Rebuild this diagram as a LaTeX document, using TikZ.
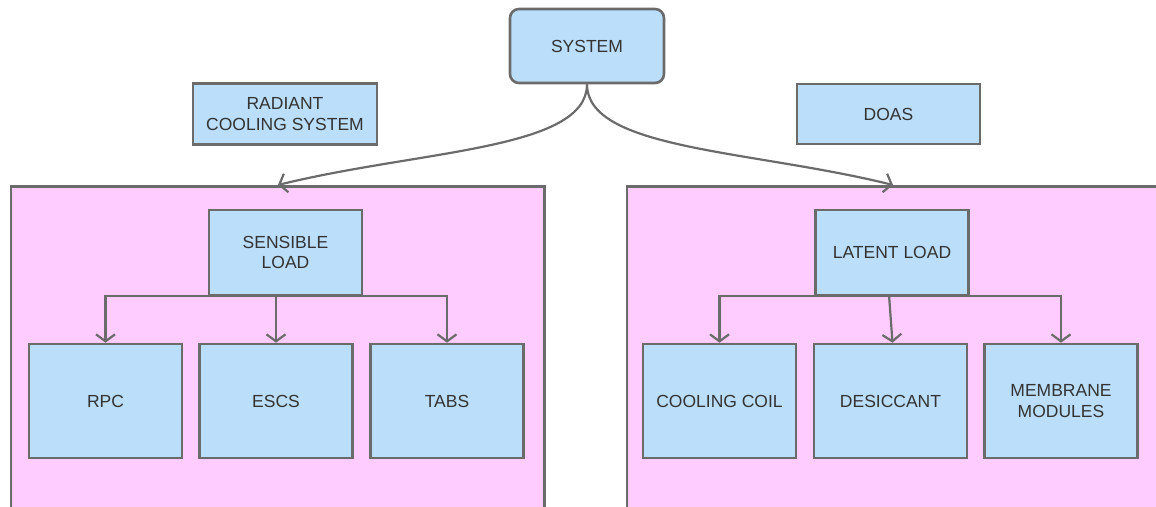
\documentclass[tikz,border=0pt]{standalone}
\usepackage{fontspec}
\setmainfont{Liberation Sans}
\usetikzlibrary{arrows.meta}
\definecolor{edgegray}{HTML}{6B6B6B}
\definecolor{boxblue}{HTML}{BBDEFB}
\definecolor{panelpink}{HTML}{FFCCFF}
\definecolor{labelgray}{HTML}{333333}
\tikzset{
  box/.style={draw=edgegray, line width=2.6pt, fill=boxblue, text=labelgray,
    align=center, inner sep=0pt, minimum width=153pt,
    font=\fontsize{17.5}{20.5}\selectfont},
  panel/.style={draw=edgegray, line width=2.6pt, fill=panelpink, inner sep=0pt},
  link/.style={draw=edgegray, line width=2.2pt,
    -{Straight Barb[length=7pt,width=19pt]}},
}
\begin{document}
\begin{tikzpicture}[x=1pt,y=-1pt]
  \useasboundingbox (0,0) rectangle (1156,506);
  \clip (0,0) rectangle (1156,506);

  % group panels
  \node[panel, minimum width=533.5pt, minimum height=380pt, anchor=north west]
    (lpanel) at (9.5,185) {};
  \node[panel, minimum width=580pt, minimum height=380pt, anchor=north west]
    (rpanel) at (625.5,185) {};

  % top level
  \node[box, rounded corners=9pt, minimum width=154pt, minimum height=74pt]
    (sys) at (587,46) {SYSTEM};
  \node[box, minimum width=184pt, minimum height=61pt]
    (rad) at (285,114) {RADIANT\\COOLING SYSTEM};
  \node[box, minimum width=183pt, minimum height=60pt]
    (doas) at (888.5,114) {DOAS};

  % load nodes
  \node[box, minimum height=85pt] (sens) at (285.5,252.5) {SENSIBLE\\LOAD};
  \node[box, minimum height=85pt] (lat)  at (892,252.5) {LATENT LOAD};

  % technologies
  \node[box, minimum height=114pt] (rpc)  at (105.5,401) {RPC};
  \node[box, minimum height=114pt] (escs) at (276,401) {ESCS};
  \node[box, minimum height=114pt] (tabs) at (447,401) {TABS};
  \node[box, minimum height=114pt] (coil) at (719.5,401) {COOLING COIL};
  \node[box, minimum height=114pt] (desi) at (890.5,401) {DESICCANT};
  \node[box, minimum height=114pt] (memb) at (1061,401) {MEMBRANE\\MODULES};

  % system to panels
  \coordinate (ltip) at (278,185);
  \coordinate (rtip) at (893,185);
  \draw[link] (sys.south) .. controls (587,150) and (420,150) .. (ltip);
  \draw[link] (sys.south) .. controls (587,150) and (752,150) .. (rtip);

  % sensible load tree
  \draw[link] (sens.south) -| (rpc.north);
  \draw[link] (sens.south) -| (tabs.north);
  \draw[link] (sens.south -| escs.north) -- (escs.north);

  % latent load tree
  \draw[link] (lat.south) -| (coil.north);
  \draw[link] (lat.south) -| (memb.north);
  \draw[link] (889,295) -- ([xshift=2pt]desi.north);
\end{tikzpicture}
\end{document}
